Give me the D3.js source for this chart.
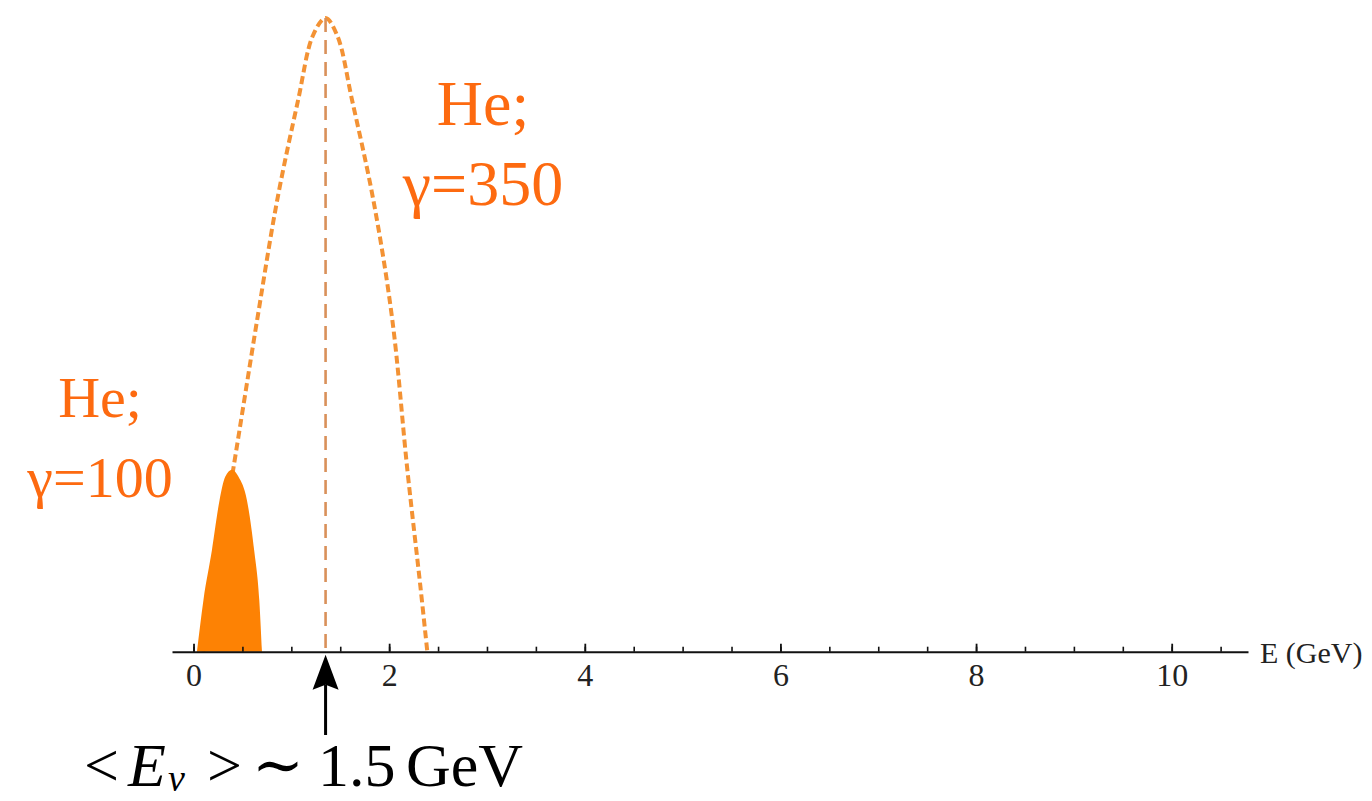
<!DOCTYPE html>
<html>
<head>
<meta charset="utf-8">
<script src="https://cdn.jsdelivr.net/npm/d3@7"></script>
<style>
  body { margin: 0; background: #fff; }
  svg { display: block; }
  text { font-family: "Liberation Serif", "DejaVu Serif", serif; }
</style>
</head>
<body>
<div id="chart"></div>
<script>
// データ (E in GeV, relative flux)
const bigE = [0.10, 0.25, 0.405, 0.651, 0.856, 1.07, 1.22, 1.35, 1.47, 1.62, 1.838, 2.032, 2.186, 2.32, 2.39];
const bigFlux = [0, 0.14, 0.287, 0.524, 0.713, 0.871, 0.972, 1.0, 0.972, 0.871, 0.713, 0.524, 0.287, 0.102, 0];
const smallE = [0.035, 0.102, 0.188, 0.266, 0.324, 0.393, 0.46, 0.546, 0.62, 0.672, 0.70];
const smallFlux = [0, 0.082, 0.16, 0.239, 0.276, 0.287, 0.276, 0.239, 0.16, 0.082, 0];
const meanE = 1.35;
const majorTicks = [0, 2, 4, 6, 8, 10];
const minorTicks = d3.range(0, 10.51, 0.5);

const width = 1372, height = 801;
const svg = d3.select("#chart").append("svg").attr("width", width).attr("height", height);

const x = d3.scaleLinear().domain([-0.22, 10.78]).range([172, 1248]);
const y = d3.scaleLinear().domain([0, 1]).range([651.7, 18]);

const bigPts = bigE.map((e, i) => [e, bigFlux[i]]);
const smallPts = smallE.map((e, i) => [e, smallFlux[i]]);

// 大きい曲線 (γ=350), dashed
const line = d3.line().x(d => x(d[0])).y(d => y(d[1])).curve(d3.curveCatmullRom);
svg.append("path")
  .attr("d", line(bigPts))
  .attr("fill", "none")
  .attr("stroke", "#f39234")
  .attr("stroke-width", 4)
  .attr("stroke-dasharray", "8,4");

// 小さい曲線 (γ=100), filled
const area = d3.area().x(d => x(d[0])).y0(y(0)).y1(d => y(d[1])).curve(d3.curveMonotoneX);
svg.append("path")
  .attr("d", area(smallPts))
  .attr("fill", "#fd8204");

// 平均エネルギーの縦線
svg.append("line")
  .attr("x1", x(meanE)).attr("x2", x(meanE))
  .attr("y1", y(1)).attr("y2", y(0))
  .attr("stroke", "#d9905a")
  .attr("stroke-width", 2.6)
  .attr("stroke-dasharray", "14,8");

// 軸
const axisY = y(0);
svg.append("g")
  .attr("transform", `translate(0,${axisY})`)
  .call(d3.axisBottom(x).tickValues(minorTicks).tickFormat("").tickSizeInner(-5).tickSizeOuter(0))
  .call(g => g.select(".domain").attr("stroke", "#111").attr("stroke-width", 2))
  .call(g => g.selectAll(".tick line").attr("stroke", "#111").attr("stroke-width", 1.6));

svg.append("g")
  .attr("transform", `translate(0,${axisY})`)
  .call(d3.axisBottom(x).tickValues(majorTicks).tickFormat(d3.format("d")).tickSizeInner(-8).tickSizeOuter(0).tickPadding(12))
  .call(g => g.select(".domain").remove())
  .call(g => g.selectAll(".tick line").attr("stroke", "#111").attr("stroke-width", 1.8))
  .call(g => g.selectAll(".tick text")
    .style("font-family", "'Liberation Serif', serif")
    .style("font-size", "32px")
    .attr("fill", "#222"));

svg.append("text")
  .attr("x", 1260).attr("y", axisY + 11)
  .style("font-size", "30px")
  .attr("fill", "#222")
  .text("E (GeV)");

// 矢印
const ax = x(meanE);
svg.append("path")
  .attr("d", `M${ax},${axisY + 3} L${ax + 13},${axisY + 38} L${ax},${axisY + 33} L${ax - 13},${axisY + 38} Z`)
  .attr("fill", "#000");
svg.append("line")
  .attr("x1", ax).attr("x2", ax)
  .attr("y1", axisY + 33).attr("y2", 735)
  .attr("stroke", "#000").attr("stroke-width", 3);

// 注釈
const lab = svg.append("text")
  .attr("y", 786)
  .style("font-size", "62px")
  .attr("fill", "#000");
lab.append("tspan").attr("x", 84).text("<");
lab.append("tspan").attr("x", 128).attr("font-style", "italic").text("E");
lab.append("tspan").attr("x", 168).attr("font-style", "italic").style("font-size", "38px").attr("dy", 5).text("ν");
lab.append("tspan").attr("x", 207).attr("dy", -5).text(">");
lab.append("tspan").attr("x", 252).text("∼");
lab.append("tspan").attr("x", 318).text("1.5");
lab.append("tspan").attr("x", 406).text("GeV");

// ラベル
const orange = "#fd6a10";
function label(cx, y1, y2, l1, l2, size) {
  svg.append("text").attr("x", cx).attr("y", y1).attr("text-anchor", "middle")
    .style("font-size", size + "px").attr("fill", orange).text(l1);
  svg.append("text").attr("x", cx).attr("y", y2).attr("text-anchor", "middle")
    .style("font-size", size + "px").attr("fill", orange).text(l2);
}
label(483, 125, 205, "He;", "γ=350", 64);
label(100, 417, 497, "He;", "γ=100", 58);
</script>
</body>
</html>
